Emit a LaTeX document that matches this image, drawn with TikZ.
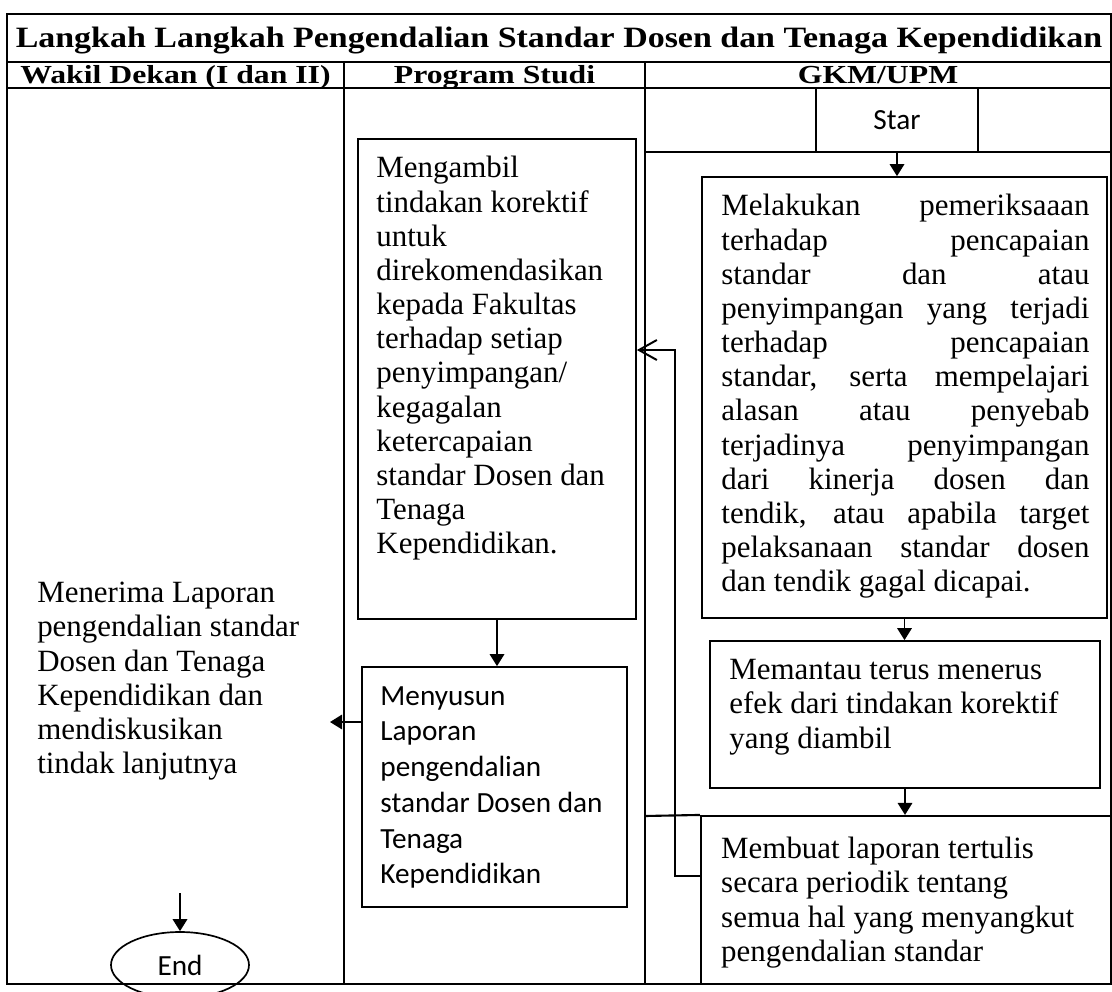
\documentclass[tikz,border=0pt]{standalone}
\usepackage{fontspec}
\setmainfont{Liberation Serif}
\newfontfamily\calibri{Carlito}
\newfontfamily\headfont[FakeStretch=1.22]{Liberation Serif}
\newfontfamily\titlefont[FakeStretch=1.15]{Liberation Serif}
\usetikzlibrary{arrows.meta,shapes.geometric}

\tikzset{
  grid/.style={line width=1.5pt},
  box/.style={draw, line width=1.2pt, inner sep=0pt},
  head/.style={anchor=base, inner sep=0pt, font=\headfont\bfseries\fontsize{18.5}{21}\selectfont},
  txt/.style={anchor=north west, inner sep=0pt, align=left, font=\fontsize{22}{24.3}\selectfont},
  sans/.style={anchor=north west, inner sep=0pt, align=left, font=\calibri\fontsize{20.8}{25.4}\selectfont},
  flow/.style={line width=1.4pt, -{Triangle[length=0.3cm,width=0.36cm]}},
  back/.style={line width=1.4pt, -{Straight Barb[length=0.45cm,width=0.5cm]}},
}

\begin{document}
\begin{tikzpicture}
\useasboundingbox (0,0) rectangle (27.8,-24.8);

% table
\draw[grid] (0.175,-0.35) rectangle (27.775,-24.6);
\draw[grid] (0.175,-1.55) -- (27.775,-1.55);
\draw[grid] (0.175,-2.2) -- (27.775,-2.2);
\draw[grid] (8.6,-1.55) -- (8.6,-24.6);
\draw[grid] (16.125,-1.55) -- (16.125,-24.6);
\draw[grid] (16.125,-3.8) -- (27.775,-3.8);

\node[head, font=\titlefont\bfseries\fontsize{21}{23}\selectfont] (title) at (13.975,-1.19) {Langkah Langkah Pengendalian Standar Dosen dan Tenaga Kependidikan};
\node[head] (wakil) at (4.3875,-2.085) {Wakil Dekan (I dan II)};
\node[head] (prodi) at (12.3625,-2.085) {Program Studi};
\node[head] (gkm) at (21.95,-2.085) {GKM/UPM};

% GKM/UPM
\node[draw, grid, minimum width=4.05cm, minimum height=1.6cm, font=\calibri\fontsize{20.8}{25}\selectfont] (start) at (22.425,-3.0) {Star};
\node[box, minimum width=10.125cm, minimum height=11.025cm] (melakukan) at (22.6125,-9.9375) {};
\node[txt, text width=9.2cm, align=justify] (melakukantxt) at ([xshift=0.5cm,yshift=-0.45cm]melakukan.north west) {Melakukan pemeriksaaan\linebreak terhadap pencapaian\linebreak standar dan atau\linebreak penyimpangan yang terjadi\linebreak terhadap pencapaian\linebreak standar, serta mempelajari\linebreak alasan atau penyebab\linebreak terjadinya penyimpangan\linebreak dari kinerja dosen dan\linebreak tendik, atau apabila target\linebreak pelaksanaan standar dosen\linebreak dan tendik gagal dicapai.};
\node[box, minimum width=9.75cm, minimum height=3.675cm] (memantau) at (22.625,-17.8625) {};
\node[txt] (memantautxt) at ([xshift=0.5cm,yshift=-0.475cm]memantau.north west) {Memantau terus menerus\\efek dari tindakan korektif\\yang diambil};
\node[draw, grid, inner sep=0pt, minimum width=10.25cm, minimum height=4.2cm] (membuat) at (22.65,-22.5) {};
\node[txt] (membuattxt) at ([xshift=0.525cm,yshift=-0.55cm]membuat.north west) {Membuat laporan tertulis\\secara periodik tentang\\semua hal yang menyangkut\\pengendalian standar};
\draw[grid] (16.125,-20.4) -- (membuat.north west);

% Program Studi
\node[box, minimum width=6.95cm, minimum height=12cm] (mengambil) at (12.425,-9.475) {};
\node[txt] (mengambiltxt) at ([xshift=0.475cm,yshift=-0.45cm]mengambil.north west) {Mengambil\\tindakan korektif\\untuk\\direkomendasikan\\kepada Fakultas\\terhadap setiap\\penyimpangan/\\kegagalan\\ketercapaian\\standar Dosen dan\\Tenaga\\Kependidikan.};
\node[box, minimum width=6.625cm, minimum height=6cm] (menyusun) at (12.3625,-19.675) {};
\node[sans] (menyusuntxt) at ([xshift=0.475cm,yshift=-0.5cm]menyusun.north west) {Menyusun\\Laporan\\pengendalian\\standar Dosen dan\\Tenaga\\Kependidikan};

% Wakil Dekan
\node[txt] (menerima) at (0.925,-14.55) {Menerima Laporan\\pengendalian standar\\Dosen dan Tenaga\\Kependidikan dan\\mendiskusikan\\tindak lanjutnya};
\node[draw, ellipse, line width=1.2pt, inner sep=0pt, minimum width=3.45cm, minimum height=1.65cm, font=\calibri\fontsize{20.8}{25}\selectfont] (stop) at (4.5,-24.125) {End};
\coordinate (wdin) at (8.25,-18.05);
\coordinate (endin) at (4.5,-22.325);

% arrows
\draw[flow] (start.south) -- (start.south |- melakukan.north);
\draw[flow] (melakukan.south) -- (melakukan.south |- memantau.north);
\draw[flow] (memantau.south) -- (memantau.south |- membuat.north);
\draw[back] ([yshift=0.6cm]membuat.west) -| (16.875,-8.75) -- (mengambil.east |- 0,-8.75);
\draw[flow] (mengambil.south) -- (mengambil.south |- menyusun.north);
\draw[flow] ([yshift=1.625cm]menyusun.west) -- (wdin);
\draw[flow] (endin) -- (stop.north);
\end{tikzpicture}
\end{document}
